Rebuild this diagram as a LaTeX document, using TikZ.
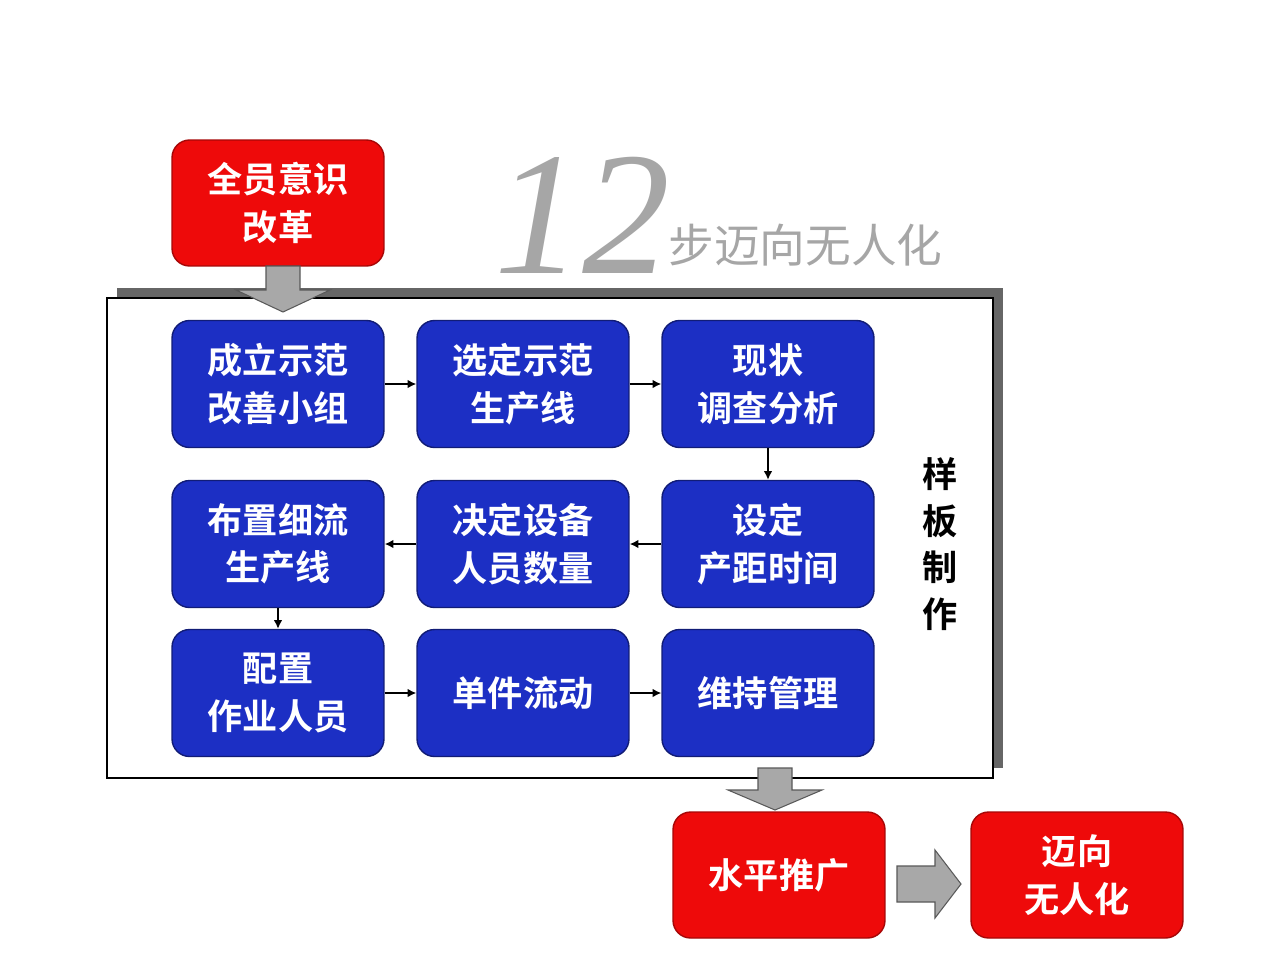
\documentclass[tikz,border=0pt]{standalone}
\usepackage{fontspec}
\setmainfont{Liberation Serif}
\newfontfamily\cjk{Noto Sans CJK SC}
\newfontfamily\cjkb{Noto Sans CJK SC Bold}
\usetikzlibrary{shapes.arrows,arrows.meta}
\definecolor{bbox}{HTML}{1C2FC4}
\definecolor{rbox}{HTML}{EE0A0A}
\definecolor{gshape}{HTML}{A8A8A8}
\begin{document}
\begin{tikzpicture}[x=0.02cm,y=-0.02cm,
  bluebox/.style={draw=bbox!60!black,line width=0.8pt,fill=bbox,rounded corners=10pt,minimum width=4.24cm,minimum height=2.54cm,text=white,align=center,font=\cjkb\fontsize{20}{27}\selectfont,inner sep=0pt},
  redbox/.style={draw=rbox!70!black,line width=0.8pt,fill=rbox,rounded corners=10pt,minimum width=4.24cm,minimum height=2.52cm,text=white,align=center,font=\cjkb\fontsize{20}{27}\selectfont,inner sep=0pt},
  conn/.style={-{Latex[length=5pt,width=5pt]},line width=1.4pt},
  bigarrow/.style={fill=gshape,draw=gray!70!black,line width=0.6pt}]
\useasboundingbox (0,0) rectangle (1280,960);
\fill[white] (0,0) rectangle (1280,960);
% frame
\fill[gray!80!black] (117,288) rectangle (1003,768);
\draw[fill=white,line width=0.8pt] (107,298) rectangle (993,778);
% title
\node[text=gray!70,font=\itshape\fontsize{100}{100}\selectfont,inner sep=0pt] (t12) at (582,215) {12};
\node[text=gray!70,font=\cjk\fontsize{26}{26}\selectfont,inner sep=0pt,anchor=west] (tt) at (668,245) {步迈向无人化};
% red boxes
\node[redbox] (r1) at (278,203) {全员意识\\改革};
\node[redbox] (r2) at (779,875) {水平推广};
\node[redbox] (r3) at (1077,875) {迈向\\无人化};
% big arrows
\fill[bigarrow] (266,266) -- (300,266) -- (300,290) -- (330,290) -- (283,312) -- (236,290) -- (266,290) -- cycle;
\fill[bigarrow] (758,768) -- (792,768) -- (792,790) -- (822,790) -- (775,810) -- (728,790) -- (758,790) -- cycle;
\fill[bigarrow] (897,866) -- (935,866) -- (935,850) -- (961,884) -- (935,918) -- (935,902) -- (897,902) -- cycle;
% blue boxes
\node[bluebox] (b1) at (278,384) {成立示范\\改善小组};
\node[bluebox] (b2) at (523,384) {选定示范\\生产线};
\node[bluebox] (b3) at (768,384) {现状\\调查分析};
\node[bluebox] (b4) at (768,544) {设定\\产距时间};
\node[bluebox] (b5) at (523,544) {决定设备\\人员数量};
\node[bluebox] (b6) at (278,544) {布置细流\\生产线};
\node[bluebox] (b7) at (278,693) {配置\\作业人员};
\node[bluebox] (b8) at (523,693) {单件流动};
\node[bluebox] (b9) at (768,693) {维持管理};
\draw[conn] (b1) -- (b2);
\draw[conn] (b2) -- (b3);
\draw[conn] (b3) -- (b4);
\draw[conn] (b4) -- (b5);
\draw[conn] (b5) -- (b6);
\draw[conn] (b6) -- (b7);
\draw[conn] (b7) -- (b8);
\draw[conn] (b8) -- (b9);
\node[font=\cjkb\fontsize{20}{26.5}\selectfont,align=center,inner sep=0pt] (side) at (940,544) {样\\板\\制\\作};
\end{tikzpicture}
\end{document}
